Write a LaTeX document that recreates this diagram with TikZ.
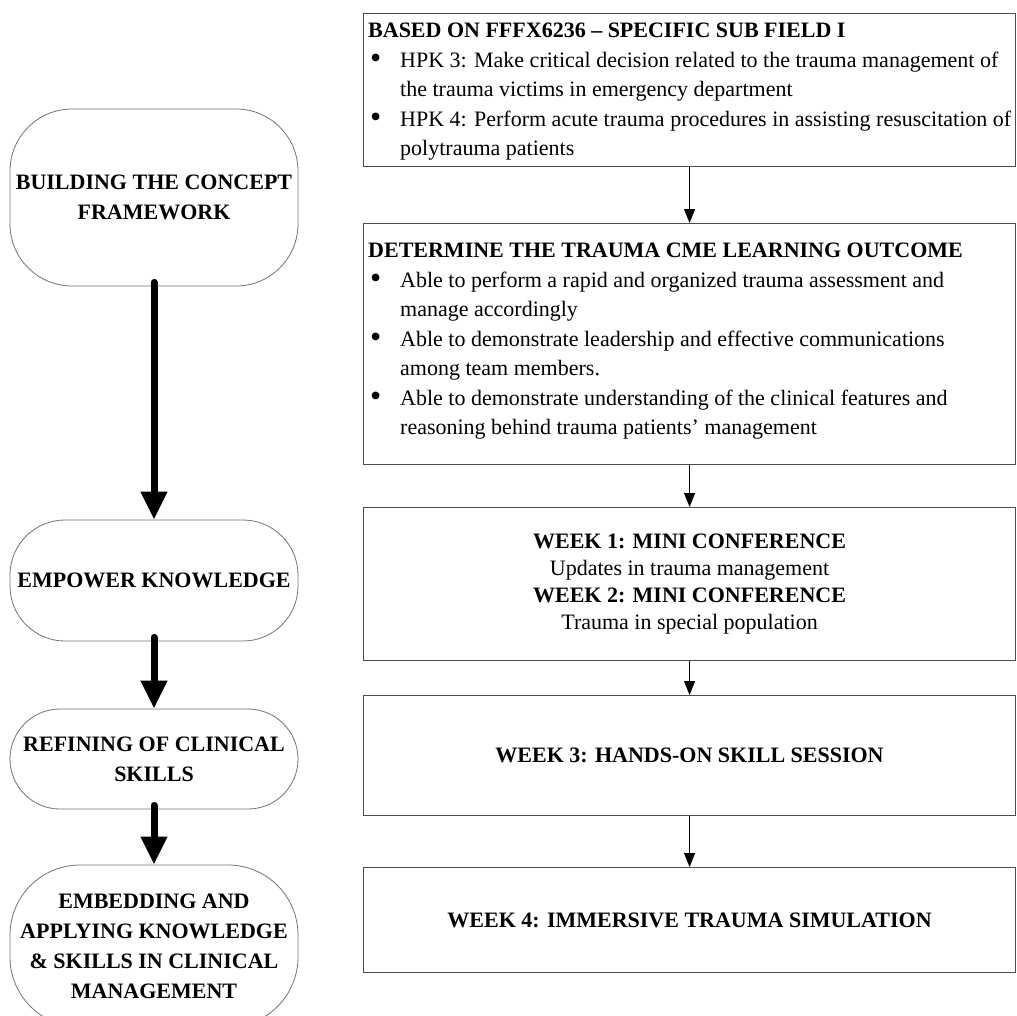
\documentclass[tikz,border=0pt]{standalone}
\usepackage{fontspec}
\usepackage{graphicx}
\setmainfont{Liberation Serif}
\usetikzlibrary{arrows.meta}
\newcommand{\bitem}{\makebox[32pt][l]{\hspace{2pt}\raisebox{-1.6pt}{\scalebox{1.45}{\textbullet}}}}
\newcommand{\bcont}{\hspace*{32pt}}
\begin{document}
\begin{tikzpicture}[x=1pt,y=-1pt,
  stage/.style={draw=black!55, line width=0.8pt, rounded corners=#1, inner sep=0pt,
    align=center, font=\bfseries\fontsize{22}{30}\selectfont, minimum width=288pt},
  rbox/.style={draw=black!70, line width=1.1pt, minimum width=652pt, inner sep=0pt,
    anchor=north west, align=center, font=\fontsize{22}{27}\selectfont},
  rtext/.style={anchor=north west, inner sep=0pt, align=left, font=\fontsize{22}{29.5}\selectfont},
  bigarrow/.style={line width=7pt, line cap=round, -{Triangle[width=25pt,length=28pt]}},
  smallarrow/.style={line width=1.1pt, -{Triangle[width=11pt,length=14pt]}}]
\fill[white] (0,0) rectangle (1017,1015);
\useasboundingbox (0,0) rectangle (1017,1015);

% left stages
\node[stage=62, minimum height=177pt] (s1) at (154,197.5) {BUILDING THE CONCEPT\\FRAMEWORK};
\node[stage=55, minimum height=121pt] (s2) at (154,580.5) {EMPOWER KNOWLEDGE};
\node[stage=50, minimum height=100pt] (s3) at (154,759) {REFINING OF CLINICAL\\SKILLS};
\node[stage=70, minimum height=162pt] (s4) at (154,946) {EMBEDDING AND\\APPLYING KNOWLEDGE\\\&~SKILLS IN CLINICAL\\MANAGEMENT};

\draw[bigarrow] ([yshift=4pt]s1.south) -- (s2.north);
\draw[bigarrow] ([yshift=4pt]s2.south) -- (s3.north);
\draw[bigarrow] ([yshift=4pt]s3.south) -- (s4.north);

% right boxes
\node[rbox, minimum height=153pt] (b1) at (363,13) {};
\node[rtext] (t1) at (368,23) {\textbf{BASED ON FFFX6236 – SPECIFIC SUB FIELD I}\\
\bitem HPK 3: Make critical decision related to the trauma management of\\
\bcont the trauma victims in emergency department\\
\bitem HPK 4: Perform acute trauma procedures in assisting resuscitation of\\
\bcont polytrauma patients};

\node[rbox, minimum height=241pt] (b2) at (363,223) {};
\node[rtext] (t2) at (368,243) {\textbf{DETERMINE THE TRAUMA CME LEARNING OUTCOME}\\
\bitem Able to perform a rapid and organized trauma assessment and\\
\bcont manage accordingly\\
\bitem Able to demonstrate leadership and effective communications\\
\bcont among team members.\\
\bitem Able to demonstrate understanding of the clinical features and\\
\bcont reasoning behind trauma patients’ management};

\node[rbox, minimum height=153pt] (b3) at (363,507) {\textbf{WEEK 1: MINI CONFERENCE}\\
Updates in trauma management\\
\textbf{WEEK 2: MINI CONFERENCE}\\
Trauma in special population};

\node[rbox, minimum height=120pt] (b4) at (363,695) {\textbf{WEEK 3: HANDS-ON SKILL SESSION}};

\node[rbox, minimum height=105pt] (b5) at (363,867) {\textbf{WEEK 4: IMMERSIVE TRAUMA SIMULATION}};

\draw[smallarrow] (b1.south) -- (b2.north);
\draw[smallarrow] (b2.south) -- (b3.north);
\draw[smallarrow] (b3.south) -- (b4.north);
\draw[smallarrow] (b4.south) -- (b5.north);
\end{tikzpicture}
\end{document}
